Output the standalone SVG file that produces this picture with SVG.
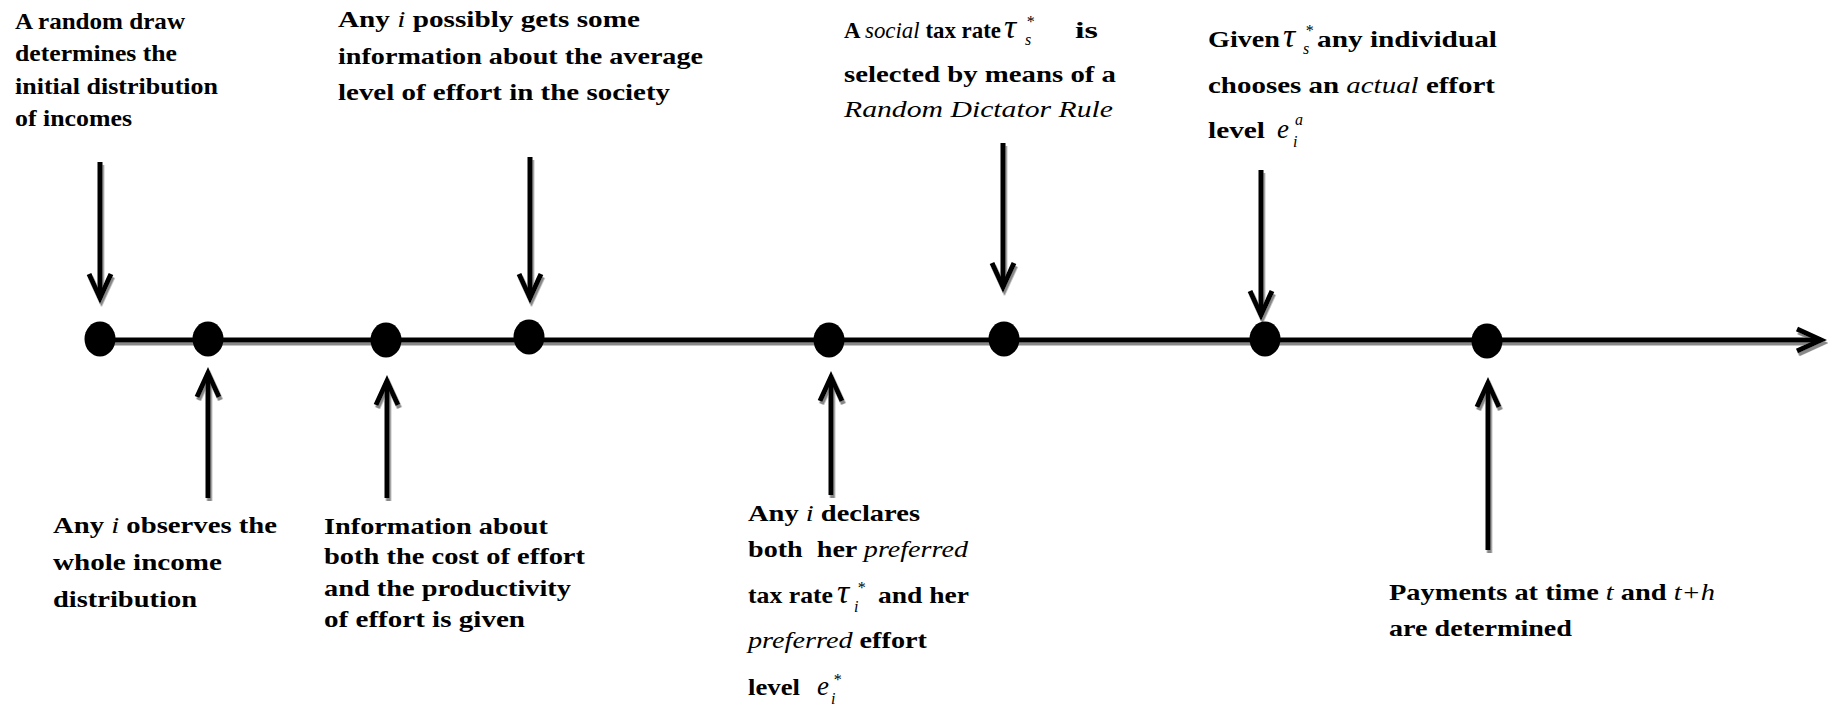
<svg xmlns="http://www.w3.org/2000/svg" width="1828" height="707" viewBox="0 0 1828 707">
<defs>
<style>
text{font-family:"Liberation Serif","Times New Roman",serif;fill:#000}
.t{font-size:23px;font-weight:bold}
.i{font-style:italic;font-weight:normal}
.m{font-style:italic;font-weight:normal}
.tau{font-size:34px}
.e{font-size:27px}
.s{font-size:16px}
.dot{fill:#000}
.ln{stroke:#000;stroke-width:5;fill:none}
</style>
<marker id="ah" markerUnits="userSpaceOnUse" viewBox="-30 -16 40 32" refX="0" refY="0" markerWidth="40" markerHeight="32" orient="auto" overflow="visible">
<path d="M-24,-11 L0,0 L-24,11" fill="none" stroke="#000" stroke-width="5"/>
</marker>
<filter id="sh" filterUnits="userSpaceOnUse" x="0" y="0" width="1828" height="707">
<feDropShadow dx="1.5" dy="3" stdDeviation="0.4" flood-color="#888" flood-opacity="1"/>
</filter>
</defs>
<rect width="1828" height="707" fill="#fff"/>
<g id="connectors" filter="url(#sh)">
<path class="ln" d="M100,340 H1821" marker-end="url(#ah)"/>
<path class="ln" d="M100,162 V298" marker-end="url(#ah)"/>
<path class="ln" d="M530,157 V298" marker-end="url(#ah)"/>
<path class="ln" d="M1003,143 V287" marker-end="url(#ah)"/>
<path class="ln" d="M1261,170 V315" marker-end="url(#ah)"/>
<path class="ln" d="M208,498 V373" marker-end="url(#ah)"/>
<path class="ln" d="M387,498 V381" marker-end="url(#ah)"/>
<path class="ln" d="M831,495 V377" marker-end="url(#ah)"/>
<path class="ln" d="M1488,550 V383" marker-end="url(#ah)"/>
</g>
<g id="n1">
<ellipse class="dot" cx="100" cy="339" rx="15.5" ry="17.5"/>
<text class="t" x="15" y="29" textLength="170" lengthAdjust="spacingAndGlyphs">A random draw</text>
<text class="t" x="15" y="61" textLength="162" lengthAdjust="spacingAndGlyphs">determines the</text>
<text class="t" x="15" y="94" textLength="203" lengthAdjust="spacingAndGlyphs">initial distribution</text>
<text class="t" x="15" y="126" textLength="117" lengthAdjust="spacingAndGlyphs">of incomes</text>
</g>
<g id="n2">
<ellipse class="dot" cx="208" cy="339" rx="15.5" ry="17.5"/>
<text class="t" x="53" y="533" textLength="224" lengthAdjust="spacingAndGlyphs">Any <tspan class="i">i</tspan> observes the</text>
<text class="t" x="53" y="570" textLength="169" lengthAdjust="spacingAndGlyphs">whole income</text>
<text class="t" x="53" y="607" textLength="144" lengthAdjust="spacingAndGlyphs">distribution</text>
</g>
<g id="n3">
<ellipse class="dot" cx="386" cy="340" rx="15.5" ry="17.5"/>
<text class="t" x="324" y="534" textLength="224" lengthAdjust="spacingAndGlyphs">Information about</text>
<text class="t" x="324" y="564" textLength="261" lengthAdjust="spacingAndGlyphs">both the cost of effort</text>
<text class="t" x="324" y="596" textLength="247" lengthAdjust="spacingAndGlyphs">and the productivity</text>
<text class="t" x="324" y="627" textLength="201" lengthAdjust="spacingAndGlyphs">of effort is given</text>
</g>
<g id="n4">
<ellipse class="dot" cx="529" cy="337" rx="15.5" ry="17.5"/>
<text class="t" x="338" y="27" textLength="302" lengthAdjust="spacingAndGlyphs">Any <tspan class="i">i</tspan> possibly gets some</text>
<text class="t" x="338" y="64" textLength="365" lengthAdjust="spacingAndGlyphs">information about the average</text>
<text class="t" x="338" y="100" textLength="332" lengthAdjust="spacingAndGlyphs">level of effort in the society</text>
</g>
<g id="n5">
<ellipse class="dot" cx="829" cy="340" rx="15.5" ry="17.5"/>
<text class="t" x="748" y="521" textLength="172" lengthAdjust="spacingAndGlyphs">Any <tspan class="i">i</tspan> declares</text>
<text class="t" x="748" y="557" textLength="220" lengthAdjust="spacingAndGlyphs" xml:space="preserve">both  her <tspan class="i">preferred</tspan></text>
<text class="t" x="748" y="603" textLength="85" lengthAdjust="spacingAndGlyphs">tax rate</text>
<text class="m tau" x="837" y="603">τ</text>
<text class="m s" x="854" y="612">i</text>
<text class="m s" x="857" y="593">*</text>
<text class="t" x="878" y="603" textLength="91" lengthAdjust="spacingAndGlyphs">and her</text>
<text class="t" x="748" y="648" textLength="179" lengthAdjust="spacingAndGlyphs"><tspan class="i">preferred</tspan> effort</text>
<text class="t" x="748" y="695" textLength="52" lengthAdjust="spacingAndGlyphs">level</text>
<text class="m e" x="817" y="695">e</text>
<text class="m s" x="831" y="704">i</text>
<text class="m s" x="833" y="685">*</text>
</g>
<g id="n6">
<ellipse class="dot" cx="1004" cy="339" rx="15.5" ry="17.5"/>
<text class="t" x="844" y="38" textLength="157" lengthAdjust="spacingAndGlyphs">A <tspan class="i">social</tspan> tax rate</text>
<text class="m tau" x="1004" y="38">τ</text>
<text class="m s" x="1025" y="45">s</text>
<text class="m s" x="1026" y="27">*</text>
<text class="t" x="1075" y="38" textLength="23" lengthAdjust="spacingAndGlyphs">is</text>
<text class="t" x="844" y="82" textLength="272" lengthAdjust="spacingAndGlyphs">selected by means of a</text>
<text class="t i" x="844" y="117" textLength="269" lengthAdjust="spacingAndGlyphs">Random Dictator Rule</text>
</g>
<g id="n7">
<ellipse class="dot" cx="1265" cy="339" rx="15.5" ry="17.5"/>
<text class="t" x="1208" y="47" textLength="72" lengthAdjust="spacingAndGlyphs">Given</text>
<text class="m tau" x="1283" y="47">τ</text>
<text class="m s" x="1303" y="54">s</text>
<text class="m s" x="1305" y="36">*</text>
<text class="t" x="1317" y="47" textLength="180" lengthAdjust="spacingAndGlyphs">any individual</text>
<text class="t" x="1208" y="93" textLength="287" lengthAdjust="spacingAndGlyphs">chooses an <tspan class="i">actual</tspan> effort</text>
<text class="t" x="1208" y="138" textLength="57" lengthAdjust="spacingAndGlyphs">level</text>
<text class="m e" x="1277" y="138">e</text>
<text class="m s" x="1293" y="147">i</text>
<text class="m s" x="1295" y="125">a</text>
</g>
<g id="n8">
<ellipse class="dot" cx="1487" cy="341" rx="15.5" ry="17.5"/>
<text class="t" x="1389" y="600" textLength="326" lengthAdjust="spacingAndGlyphs">Payments at time <tspan class="i">t</tspan> and <tspan class="i">t+h</tspan></text>
<text class="t" x="1389" y="636" textLength="183" lengthAdjust="spacingAndGlyphs">are determined</text>
</g>
</svg>
